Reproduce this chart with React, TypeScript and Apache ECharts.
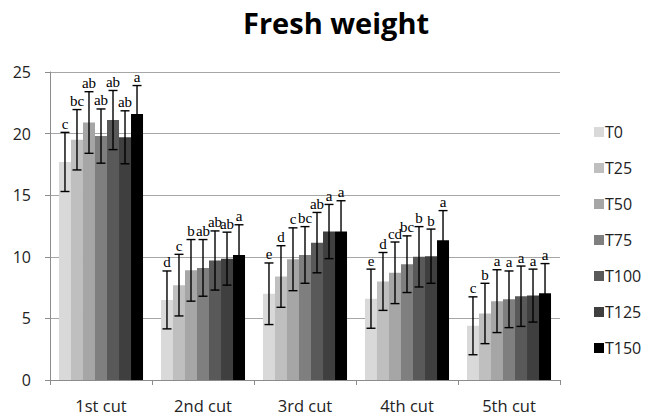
import React, { useEffect, useRef } from "react";
import * as echarts from "echarts";

// Harvest cuts on the x axis
const categories = ["1st cut", "2nd cut", "3rd cut", "4th cut", "5th cut"];
const treatments = ["T0", "T25", "T50", "T75", "T100", "T125", "T150"];
const colors = ["#d9d9d9", "#bfbfbf", "#a6a6a6", "#7f7f7f", "#595959", "#3f3f3f", "#000000"];

// Mean fresh weight per treatment, one value per cut
const meansT0 = [17.7, 6.5, 7.0, 6.6, 4.4];
const meansT25 = [19.5, 7.7, 8.4, 8.0, 5.4];
const meansT50 = [20.9, 8.9, 9.8, 8.7, 6.4];
const meansT75 = [19.8, 9.1, 10.15, 9.4, 6.55];
const meansT100 = [21.1, 9.7, 11.15, 10.0, 6.8];
const meansT125 = [19.7, 9.85, 12.05, 10.05, 6.85];
const meansT150 = [21.6, 10.15, 12.05, 11.35, 7.05];

// Standard deviations (error bars)
const sdT0 = [2.4, 2.35, 2.5, 2.4, 2.35];
const sdT25 = [2.45, 2.5, 2.5, 2.35, 2.45];
const sdT50 = [2.5, 2.5, 2.55, 2.5, 2.55];
const sdT75 = [2.2, 2.3, 2.3, 2.3, 2.3];
const sdT100 = [2.4, 2.4, 2.45, 2.45, 2.45];
const sdT125 = [2.15, 2.15, 2.2, 2.2, 2.15];
const sdT150 = [2.3, 2.45, 2.5, 2.4, 2.4];

// Significance letters
const lettersT0 = ["c", "d", "e", "e", "c"];
const lettersT25 = ["bc", "c", "d", "d", "b"];
const lettersT50 = ["ab", "b", "c", "cd", "a"];
const lettersT75 = ["ab", "ab", "bc", "bc", "a"];
const lettersT100 = ["ab", "ab", "ab", "b", "a"];
const lettersT125 = ["ab", "ab", "a", "b", "a"];
const lettersT150 = ["a", "a", "a", "a", "a"];

// Y axis ticks
const yMin = 0;
const yMax = 25;
const yStep = 5;

const allMeans = [meansT0, meansT25, meansT50, meansT75, meansT100, meansT125, meansT150];
const allSds = [sdT0, sdT25, sdT50, sdT75, sdT100, sdT125, sdT150];
const allLetters = [lettersT0, lettersT25, lettersT50, lettersT75, lettersT100, lettersT125, lettersT150];

const CATEGORY_GAP = 0.176;
const SANS = "'Open Sans', 'DejaVu Sans', sans-serif";
const SERIF = "'Liberation Serif', 'DejaVu Serif', serif";

export default function App() {
  const ref = useRef<HTMLDivElement>(null);

  useEffect(() => {
    if (!ref.current) return;
    const chart = echarts.init(ref.current, undefined, { renderer: "svg" });
    const n = treatments.length;

    const barSeries = treatments.map((name, i) => ({
      name,
      type: "bar",
      data: allMeans[i],
      barGap: "0%",
      barCategoryGap: `${CATEGORY_GAP * 100}%`,
      itemStyle: { color: colors[i] },
      z: 2,
    }));

    const errorSeries = treatments.map((name, i) => ({
      name: name + "-err",
      type: "custom",
      z: 5,
      silent: true,
      data: allMeans[i].map((m, c) => [c, m, allSds[i][c]]),
      encode: { x: 0, y: 1 },
      renderItem: (params: any, api: any) => {
        const cat = api.value(0);
        const mean = api.value(1);
        const sd = api.value(2);
        const center = api.coord([cat, mean]);
        const catW = api.size([1, 0])[0];
        const barW = (catW * (1 - CATEGORY_GAP)) / n;
        const x = center[0] + (i - (n - 1) / 2) * barW;
        const top = api.coord([cat, mean + sd])[1];
        const bot = api.coord([cat, mean - sd])[1];
        const half = 4.5;
        const lineStyle = { stroke: "#000", lineWidth: 1.4 };
        return {
          type: "group",
          children: [
            { type: "line", shape: { x1: x, y1: top, x2: x, y2: bot }, style: lineStyle },
            { type: "line", shape: { x1: x - half, y1: top, x2: x + half, y2: top }, style: lineStyle },
            { type: "line", shape: { x1: x - half, y1: bot, x2: x + half, y2: bot }, style: lineStyle },
            {
              type: "text",
              x,
              y: top - 1,
              style: {
                text: allLetters[i][params.dataIndex],
                fill: "#000",
                font: `15px ${SERIF}`,
                align: "center",
                verticalAlign: "bottom",
              },
            },
          ],
        };
      },
    }));

    chart.setOption({
      animation: false,
      title: {
        text: "Fresh weight",
        left: 238,
        top: 3,
        textStyle: { fontFamily: SANS, fontSize: 29, fontWeight: "bold", color: "#000" },
      },
      legend: {
        data: treatments,
        orient: "vertical",
        left: 589,
        top: 119,
        itemWidth: 10,
        itemHeight: 10,
        itemGap: 20,
        icon: "rect",
        textStyle: { fontFamily: SANS, fontSize: 16, color: "#222", padding: [0, 0, 0, -4] },
      },
      grid: { left: 50, right: 90, top: 72, bottom: 38, containLabel: false },
      xAxis: {
        type: "category",
        data: categories,
        axisLine: { lineStyle: { color: "#8c8c8c", width: 1 } },
        axisTick: { show: true, length: 5, lineStyle: { color: "#8c8c8c" } },
        axisLabel: { fontFamily: SANS, fontSize: 16.5, color: "#222", margin: 17 },
      },
      yAxis: {
        type: "value",
        min: yMin,
        max: yMax,
        interval: yStep,
        axisLine: { show: true, lineStyle: { color: "#8c8c8c", width: 1 } },
        axisTick: { show: true, length: 5, lineStyle: { color: "#8c8c8c" } },
        axisLabel: { fontFamily: SANS, fontSize: 16, color: "#222", margin: 19 },
        splitLine: { lineStyle: { color: "#a6a6a6", width: 1 } },
      },
      series: [...barSeries, ...errorSeries],
    });

    return () => chart.dispose();
  }, []);

  return (
    <div
      ref={ref}
      style={{ position: "fixed", left: 0, top: 0, width: 650, height: 418, background: "#fff" }}
    />
  );
}
